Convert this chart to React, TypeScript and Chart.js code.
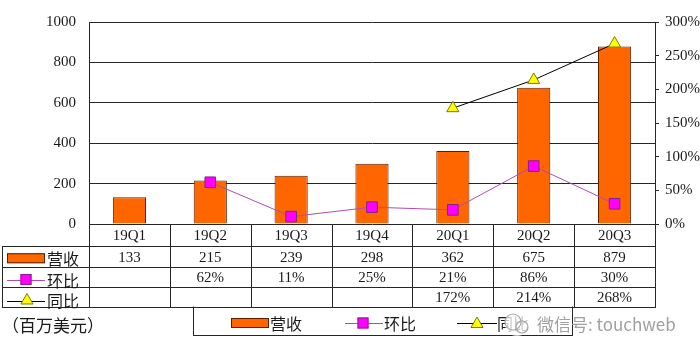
import React, { useEffect, useRef } from 'react';
import { Chart, registerables } from 'chart.js';

Chart.register(...registerables);

const categories = ['19Q1', '19Q2', '19Q3', '19Q4', '20Q1', '20Q2', '20Q3'];
const revenue = [133, 215, 239, 298, 362, 675, 879];
const qoq: (number | null)[] = [null, 62, 11, 25, 21, 86, 30];
const yoy: (number | null)[] = [null, null, null, null, 172, 214, 268];
const seriesNames = ['营收', '环比', '同比'];
const unitLabel = '（百万美元）';
const watermark = '微信号: touchweb';

const SERIF = "'Liberation Serif', 'Noto Sans CJK SC', serif";
const CJK = "'Noto Sans CJK SC', sans-serif";
const ORANGE = '#FF6600';
const BAR_BORDER = '#5a2000';
const MAGENTA = '#FF00FF';
const MAG_BORDER = '#8a1f8a';
const MAG_LINE = '#B04CB0';
const YELLOW = '#FFFF00';
const YEL_BORDER = '#7a7a00';
const GRID = '#262626';

function drawSquare(ctx: CanvasRenderingContext2D, cx: number, cy: number, s: number) {
  ctx.fillStyle = MAGENTA;
  ctx.strokeStyle = MAG_BORDER;
  ctx.lineWidth = 1;
  ctx.fillRect(cx - s / 2, cy - s / 2, s, s);
  ctx.strokeRect(cx - s / 2 + 0.5, cy - s / 2 + 0.5, s - 1, s - 1);
}

function drawTriangle(ctx: CanvasRenderingContext2D, cx: number, cy: number, r: number) {
  ctx.beginPath();
  ctx.moveTo(cx, cy - r);
  ctx.lineTo(cx + r * 0.866, cy + r * 0.5);
  ctx.lineTo(cx - r * 0.866, cy + r * 0.5);
  ctx.closePath();
  ctx.fillStyle = YELLOW;
  ctx.fill();
  ctx.strokeStyle = YEL_BORDER;
  ctx.lineWidth = 1;
  ctx.stroke();
}

function hline(ctx: CanvasRenderingContext2D, x1: number, x2: number, y: number) {
  ctx.beginPath();
  ctx.moveTo(x1, Math.round(y) + 0.5);
  ctx.lineTo(x2, Math.round(y) + 0.5);
  ctx.stroke();
}
function vline(ctx: CanvasRenderingContext2D, x: number, y1: number, y2: number) {
  ctx.beginPath();
  ctx.moveTo(Math.round(x) + 0.5, y1);
  ctx.lineTo(Math.round(x) + 0.5, y2);
  ctx.stroke();
}

const tablePlugin = {
  id: 'dataTable',
  afterDraw(chart: any) {
    const ctx: CanvasRenderingContext2D = chart.ctx;
    const area = chart.chartArea;
    const xs = chart.scales.x;
    const n = categories.length;
    const step = (area.right - area.left) / n;
    const top = area.bottom; // header row top
    const r1 = top + 22;
    const r2 = r1 + 20.5;
    const r3 = r2 + 20;
    const r4 = r3 + 20;
    const tableLeft = 2;

    ctx.save();
    ctx.strokeStyle = GRID;
    ctx.lineWidth = 1;
    hline(ctx, tableLeft, area.right + 1, r1);
    hline(ctx, tableLeft, area.right + 1, r2);
    hline(ctx, tableLeft, area.right + 1, r3);
    hline(ctx, tableLeft, area.right + 1, r4);
    vline(ctx, tableLeft, r1, r4 + 1);
    vline(ctx, area.left, top, r4 + 1);
    for (let i = 1; i < n; i++) vline(ctx, area.left + step * i, top, r4 + 1);
    vline(ctx, area.right, top, r4 + 1);

    ctx.fillStyle = '#1a1a1a';
    ctx.textAlign = 'center';
    ctx.textBaseline = 'middle';
    ctx.font = `15px ${SERIF}`;
    for (let i = 0; i < n; i++) {
      const cx = xs.getPixelForValue(i);
      ctx.fillText(String(revenue[i]), cx, (r1 + r2) / 2 + 2);
      if (qoq[i] != null) ctx.fillText(`${qoq[i]}%`, cx, (r2 + r3) / 2 + 2);
      if (yoy[i] != null) ctx.fillText(`${yoy[i]}%`, cx, (r3 + r4) / 2 + 2);
    }

    const k1 = (r1 + r2) / 2 + 2;
    const k2 = (r2 + r3) / 2 + 3;
    const k3 = (r3 + r4) / 2 + 4;
    ctx.fillStyle = ORANGE;
    ctx.fillRect(7, k1 - 5, 38, 10);
    ctx.strokeStyle = BAR_BORDER;
    ctx.strokeRect(7.5, k1 - 4.5, 37, 9);

    ctx.strokeStyle = MAG_LINE;
    hline(ctx, 7, 45, k2);
    drawSquare(ctx, 26, k2, 11);

    ctx.strokeStyle = '#000';
    hline(ctx, 7, 45, k3);
    drawTriangle(ctx, 27, k3, 7);

    ctx.fillStyle = '#1a1a1a';
    ctx.textAlign = 'left';
    ctx.font = `16px ${CJK}`;
    ctx.fillText(seriesNames[0], 47, k1 + 1);
    ctx.fillText(seriesNames[1], 47, k2 + 1);
    ctx.fillText(seriesNames[2], 47, k3);

    ctx.font = `17px ${CJK}`;
    ctx.fillText(unitLabel, 2, 326);

    const lb = 335;
    ctx.strokeStyle = GRID;
    vline(ctx, 193, r4, lb + 1);
    vline(ctx, 572, r4, lb + 1);
    hline(ctx, 193, 573, lb);

    const ly = 323;
    ctx.fillStyle = ORANGE;
    ctx.fillRect(231, ly - 5, 38, 10);
    ctx.strokeStyle = BAR_BORDER;
    ctx.strokeRect(231.5, ly - 4.5, 37, 9);
    ctx.fillStyle = '#1a1a1a';
    ctx.font = `16px ${CJK}`;
    ctx.fillText(seriesNames[0], 270, ly + 1);

    ctx.strokeStyle = MAG_LINE;
    hline(ctx, 345, 383, ly);
    drawSquare(ctx, 363, ly, 11);
    ctx.fillStyle = '#1a1a1a';
    ctx.fillText(seriesNames[1], 384, ly + 1);

    ctx.strokeStyle = '#000';
    hline(ctx, 457, 497, ly);
    drawTriangle(ctx, 477, ly + 1, 7);
    ctx.fillStyle = '#1a1a1a';
    ctx.fillText(seriesNames[2], 497, ly + 1);

    ctx.fillStyle = 'rgba(255,255,255,0.75)';
    ctx.beginPath();
    ctx.arc(517, ly + 1, 12, 0, Math.PI * 2);
    ctx.fill();
    ctx.strokeStyle = '#a8a8a8';
    ctx.lineWidth = 1.2;
    ctx.beginPath();
    ctx.arc(513, ly - 1, 8, 0, Math.PI * 2);
    ctx.stroke();
    ctx.beginPath();
    ctx.arc(522, ly + 4, 6, 0, Math.PI * 2);
    ctx.stroke();
    ctx.fillStyle = '#a0a0a0';
    ctx.font = `17px ${CJK}`;
    ctx.fillText(watermark, 537, ly + 2);
    ctx.restore();
  },
};

export default function App() {
  const ref = useRef<HTMLCanvasElement | null>(null);
  useEffect(() => {
    document.body.style.margin = '0';
    const canvas = ref.current;
    if (!canvas) return;
    const chart = new Chart(canvas, {
      type: 'bar',
      data: {
        labels: categories,
        datasets: [
          {
            type: 'line',
            label: seriesNames[1],
            data: qoq,
            yAxisID: 'y1',
            order: 1,
            borderColor: MAG_LINE,
            borderWidth: 1,
            pointStyle: 'rect',
            pointRadius: 7.5,
            pointBackgroundColor: MAGENTA,
            pointBorderColor: MAG_BORDER,
            pointBorderWidth: 1,
            tension: 0,
          } as any,
          {
            type: 'line',
            label: seriesNames[2],
            data: yoy,
            yAxisID: 'y1',
            order: 2,
            borderColor: '#000',
            borderWidth: 1,
            pointStyle: 'triangle',
            pointRadius: 7,
            pointBackgroundColor: YELLOW,
            pointBorderColor: YEL_BORDER,
            pointBorderWidth: 1,
            tension: 0,
          } as any,
          {
            type: 'bar',
            label: seriesNames[0],
            data: revenue,
            yAxisID: 'y',
            order: 3,
            backgroundColor: ORANGE,
            borderColor: BAR_BORDER,
            borderWidth: 1,
            barPercentage: 0.41,
            categoryPercentage: 1,
          } as any,
        ],
      },
      options: {
        responsive: false,
        animation: false,
        devicePixelRatio: 1,
        layout: { padding: { left: 0, right: 0, top: 10, bottom: 109 } },
        plugins: {
          legend: { display: false },
          tooltip: { enabled: false },
        },
        scales: {
          x: {
            grid: { display: false, drawTicks: false },
            border: { display: false },
            ticks: {
              color: '#1a1a1a',
              font: { family: SERIF, size: 15 },
              padding: 3,
              maxRotation: 0,
            },
            afterFit: (s: any) => {
              s.height = 22;
            },
          },
          y: {
            position: 'left',
            min: 0,
            max: 1000,
            ticks: {
              stepSize: 200,
              color: '#1a1a1a',
              font: { family: SERIF, size: 15 },
              padding: 13,
              callback: (v: any) => String(v),
            },
            grid: { color: GRID, drawTicks: false, lineWidth: 1 },
            border: { display: true, color: GRID },
            afterFit: (s: any) => {
              s.width = 89;
            },
          },
          y1: {
            position: 'right',
            min: 0,
            max: 300,
            ticks: {
              stepSize: 50,
              color: '#1a1a1a',
              font: { family: SERIF, size: 15 },
              padding: 6,
              callback: (v: any) => `${v}%`,
            },
            grid: { drawOnChartArea: false, drawTicks: true, tickLength: 4, color: GRID },
            border: { display: true, color: GRID },
            afterFit: (s: any) => {
              s.width = 45;
            },
          },
        },
      },
      plugins: [tablePlugin],
    });
    return () => chart.destroy();
  }, []);
  return (
    <div style={{ position: 'absolute', left: 0, top: 0, width: 700, height: 355, background: '#fff' }}>
      <canvas ref={ref} width={700} height={355} />
    </div>
  );
}
